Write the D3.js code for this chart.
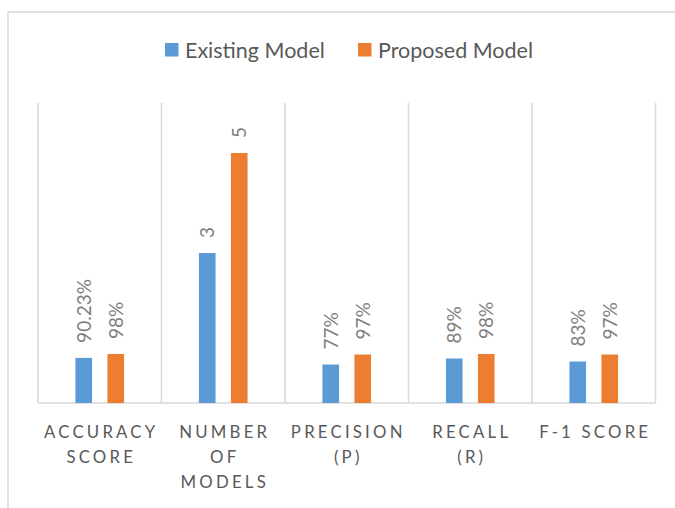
<!DOCTYPE html>
<html>
<head>
<meta charset="utf-8">
<script src="https://cdn.jsdelivr.net/npm/d3@7"></script>
<style>
  html, body { margin: 0; padding: 0; background: #fff; }
  svg { display: block; font-family: Lato, "Open Sans", sans-serif; }
</style>
</head>
<body>
<svg id="chart" width="675" height="508"></svg>
<script>
// Metric categories (multi-line axis labels) and the kind of value each holds
const categories = ["ACCURACY SCORE", "NUMBER OF MODELS", "PRECISION (P)", "RECALL (R)", "F-1 SCORE"];
const categoryLines = [["ACCURACY", "SCORE"], ["NUMBER", "OF", "MODELS"], ["PRECISION", "(P)"], ["RECALL", "(R)"], ["F-1 SCORE"]];
const valueKinds = ["percent", "count", "percent", "percent", "percent"];

const seriesNames = ["Existing Model", "Proposed Model"];
const existingModel = [0.9023, 3, 0.77, 0.89, 0.83];
const proposedModel = [0.98, 5, 0.97, 0.98, 0.97];
const seriesColors = ["#5B9BD5", "#ED7D31"];

const yDomain = [0, 6];

const svg = d3.select("#chart");
const plot = { left: 38, right: 655.5, top: 103, bottom: 403 };

// Outer chart frame
svg.append("rect")
  .attr("x", 8).attr("y", 12)
  .attr("width", 720).attr("height", 560)
  .attr("fill", "#fff")
  .attr("stroke", "#d9d9d9").attr("stroke-width", 1.5);

const x0 = d3.scaleBand().domain(categories).range([plot.left, plot.right]).padding(0);
const x1 = d3.scaleBand().domain(seriesNames).range([0, x0.bandwidth()])
  .paddingInner(0.48).paddingOuter(1.17);
const y = d3.scaleLinear().domain(yDomain).range([plot.bottom, plot.top]);

// Category separators
const bounds = categories.map(c => x0(c)).concat([x0(categories[categories.length - 1]) + x0.bandwidth()]);
svg.append("g").selectAll("line").data(bounds).join("line")
  .attr("x1", d => d).attr("x2", d => d)
  .attr("y1", plot.top).attr("y2", plot.bottom)
  .attr("stroke", "#d9d9d9").attr("stroke-width", 1.5);

// Category axis line
svg.append("line")
  .attr("x1", plot.left).attr("x2", plot.right)
  .attr("y1", plot.bottom).attr("y2", plot.bottom)
  .attr("stroke", "#d9d9d9").attr("stroke-width", 1.5);

const rows = categories.map((c, i) => ({
  category: c,
  kind: valueKinds[i],
  values: [existingModel[i], proposedModel[i]]
}));

const fmtPct = d3.format(".4~p");
const fmtCount = d3.format("d");

const groups = svg.append("g").selectAll("g").data(rows).join("g")
  .attr("transform", d => `translate(${x0(d.category)},0)`);

const bars = groups.selectAll("g.bar").data(d => d.values.map((v, j) => ({
  series: seriesNames[j], value: v, color: seriesColors[j], kind: d.kind
}))).join("g").attr("class", "bar");

bars.append("rect")
  .attr("x", d => x1(d.series))
  .attr("width", x1.bandwidth())
  .attr("y", d => y(d.value))
  .attr("height", d => y(0) - y(d.value))
  .attr("fill", d => d.color);

// Rotated value labels above each bar
bars.append("text")
  .attr("transform", d => `translate(${x1(d.series) + x1.bandwidth() / 2},${y(d.value) - 15}) rotate(-90)`)
  .attr("dy", "0.36em")
  .attr("text-anchor", "start")
  .attr("fill", "#7f7f7f")
  .attr("font-size", 19)
  .text(d => d.kind === "percent" ? fmtPct(d.value) : fmtCount(d.value));

// Category labels, letter-spaced capitals
const labels = svg.append("g").selectAll("text").data(categories).join("text")
  .attr("x", d => x0(d) + x0.bandwidth() / 2 + 1.5)
  .attr("y", 437.5)
  .attr("text-anchor", "middle")
  .attr("fill", "#595959")
  .attr("font-size", 16.8)
  .attr("letter-spacing", 3.2);
labels.selectAll("tspan").data((d, i) => categoryLines[i]).join("tspan")
  .attr("x", function () { return d3.select(this.parentNode).attr("x"); })
  .attr("dy", (d, k) => k === 0 ? 0 : 25)
  .text(d => d);

// Legend
const legendItems = [
  { name: seriesNames[0], color: seriesColors[0], x: 165 },
  { name: seriesNames[1], color: seriesColors[1], x: 358 }
];
const lg = svg.append("g").selectAll("g").data(legendItems).join("g")
  .attr("transform", d => `translate(${d.x},43)`);
lg.append("rect").attr("width", 13.5).attr("height", 13.5).attr("fill", d => d.color);
lg.append("text")
  .attr("x", 20).attr("y", 14.5)
  .attr("fill", "#595959")
  .attr("font-size", 21.5)
  .text(d => d.name);
</script>
</body>
</html>
